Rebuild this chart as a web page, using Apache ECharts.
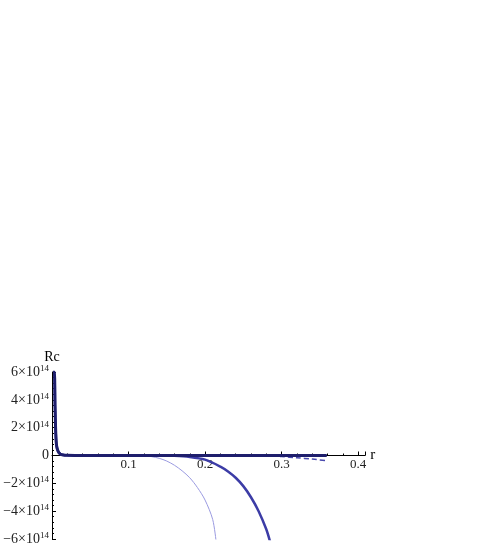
<!DOCTYPE html>
<html>
<head>
<meta charset="utf-8">
<script src="https://cdn.jsdelivr.net/npm/echarts@6/dist/echarts.min.js"></script>
<style>
  html, body { margin: 0; padding: 0; background: #fff; }
  #main { width: 491px; height: 545px; }
</style>
</head>
<body>
<div id="main"></div>
<script>
// values (r, Rc)
var spike = [[0.0015, 6e14], [0.003, 6e14], [0.004, 3.5e14], [0.005, 1.5e14], [0.006, 0.7e14],
             [0.008, 0.3e14], [0.011, 0.1e14], [0.015, 0.03e14], [0.02, 0.01e14], [0.03, 0]];
var thinTail = [[0.1, 0], [0.12, -0.02e14], [0.13, -0.08e14], [0.14, -0.2e14], [0.15, -0.4e14],
                [0.16, -0.7e14], [0.17, -1.1e14], [0.18, -1.6e14], [0.19, -2.3e14], [0.2, -3.2e14],
                [0.21, -4.6e14], [0.2145, -6.2e14]];
var dottedTail = [[0.14, 0], [0.16, -0.02e14], [0.18, -0.1e14], [0.2, -0.3e14], [0.22, -0.8e14],
                  [0.23, -1.15e14], [0.24, -1.6e14], [0.25, -2.2e14], [0.26, -3.0e14], [0.27, -4.0e14],
                  [0.28, -5.3e14], [0.285, -6.2e14]];
var dashedTail = [[0.26, 0], [0.28, -0.02e14], [0.3, -0.08e14], [0.32, -0.16e14], [0.34, -0.26e14],
                  [0.357, -0.36e14]];
var solidTail = [[0.1, 0], [0.2, 0], [0.3, 0], [0.359, 0]];
var yTicks = [-6e14, -4e14, -2e14, 0, 2e14, 4e14, 6e14];

var serif = '"Liberation Serif", "DejaVu Serif", serif';

function yLabel(v) {
  if (v === 0) return '{b|0}';
  var m = Math.round(v / 1e14);
  return '{b|' + (m < 0 ? '\u2212' + (-m) : m) + '\u00d710}{s|14}';
}

function line(data, color, width, type, z) {
  return {
    type: 'line', data: data, showSymbol: false, smooth: 0.3, z: z,
    lineStyle: { color: color, width: width, type: type },
    animation: false
  };
}

var chart = echarts.init(document.getElementById('main'));
chart.setOption({
  backgroundColor: '#fff',
  grid: { left: 52, right: 126, top: 372, bottom: 6, outerBoundsMode: 'none' },
  xAxis: {
    type: 'value', min: 0, max: 0.409, interval: 0.1,
    offset: -83.5,
    name: 'r', nameGap: 5,
    nameTextStyle: { fontFamily: serif, fontSize: 15, color: '#000', verticalAlign: 'middle' },
    axisLine: { onZero: false, lineStyle: { color: '#000', width: 1 } },
    axisTick: { inside: true, length: 4, lineStyle: { color: '#000' } },
    minorTick: { show: true, splitNumber: 5, length: 2, lineStyle: { color: '#000' } },
    splitLine: { show: false },
    axisLabel: {
      fontFamily: serif, fontSize: 13, color: '#222', margin: 3,
      showMinLabel: false, showMaxLabel: false,
      formatter: function (v) { return v.toFixed(1); }
    }
  },
  yAxis: {
    type: 'value', min: yTicks[0], max: yTicks[yTicks.length - 1], interval: 2e14,
    name: 'Rc', nameGap: 9,
    nameTextStyle: { fontFamily: serif, fontSize: 14, color: '#000', verticalAlign: 'middle' },
    axisLine: { lineStyle: { color: '#000', width: 1 } },
    axisTick: { inside: true, length: 4, lineStyle: { color: '#000' } },
    minorTick: { show: true, splitNumber: 5, length: 2, lineStyle: { color: '#000' } },
    splitLine: { show: false },
    axisLabel: {
      margin: 3, color: '#222', formatter: yLabel,
      rich: {
        b: { fontFamily: serif, fontSize: 14, color: '#222', lineHeight: 16 },
        s: { fontFamily: serif, fontSize: 9, color: '#222', verticalAlign: 'top', lineHeight: 16, padding: [0, 0, 8, 0] }
      }
    }
  },
  series: [
    line(spike.concat(thinTail), '#9a9ae0', 1, 'solid', 2),
    line(spike.concat(dottedTail), '#3c3ca6', 2.5, 'solid', 3),
    line(spike.concat(dashedTail), '#4a4aae', 1.5, [5, 3], 4),
    line(spike.concat(solidTail), '#1e1e6c', 3, 'solid', 5)
  ]
});
</script>
</body>
</html>
